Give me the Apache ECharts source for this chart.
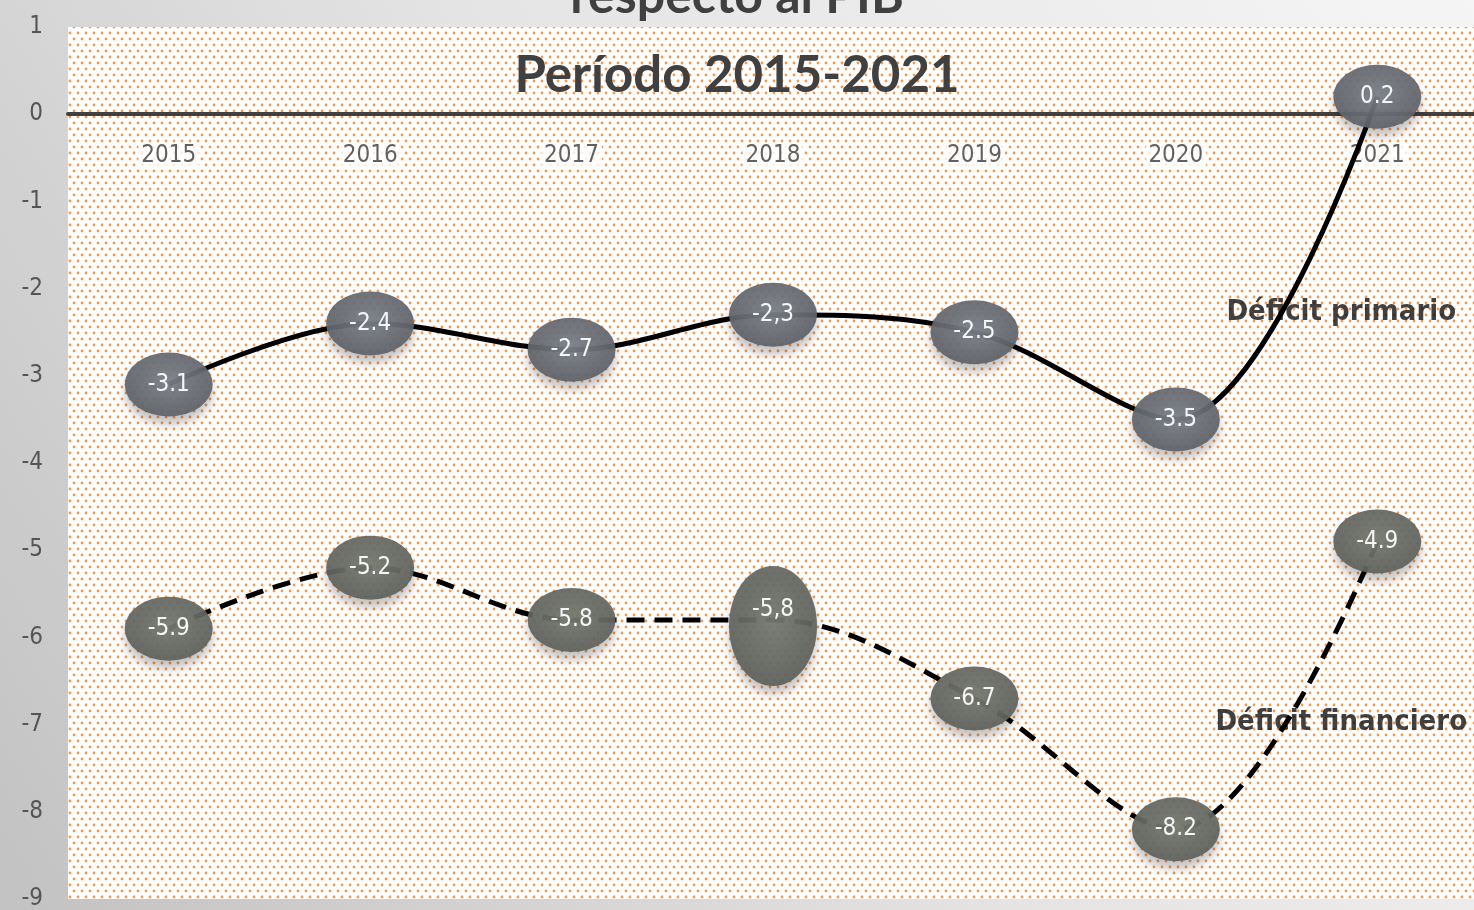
<!DOCTYPE html>
<html>
<head>
<meta charset="utf-8">
<script src="https://cdn.jsdelivr.net/npm/echarts@6/dist/echarts.min.js"></script>
<style>
  html, body { margin: 0; padding: 0; }
  #chart { width: 1474px; height: 910px; }
</style>
</head>
<body>
<div id="chart"></div>
<script>
// datos del gráfico
var years = ['2015', '2016', '2017', '2018', '2019', '2020', '2021'];
var primario = [-3.1, -2.4, -2.7, -2.3, -2.5, -3.5, 0.2];
var primarioTxt = ['-3.1', '-2.4', '-2.7', '-2,3', '-2.5', '-3.5', '0.2'];
var financiero = [-5.9, -5.2, -5.8, -5.8, -6.7, -8.2, -4.9];
var financieroTxt = ['-5.9', '-5.2', '-5.8', '-5,8', '-6.7', '-8.2', '-4.9'];
var yTicks = [1, 0, -1, -2, -3, -4, -5, -6, -7, -8, -9];
var notaPrimario = ['2021', -2.27];
var notaFinanciero = ['2021', -6.97];

var NARROW = '"Liberation Sans Narrow", "DejaVu Sans Condensed", "Roboto Condensed", sans-serif';

// trama de puntos naranjas del área de trazado
function trama() {
    var c = document.createElement('canvas');
    c.width = 8; c.height = 12;
    var ctx = c.getContext('2d');
    ctx.fillStyle = '#ffffff';
    ctx.fillRect(0, 0, 8, 12);
    ctx.fillStyle = '#f39a50';
    ctx.beginPath(); ctx.arc(2, 3, 1.4, 0, Math.PI * 2); ctx.fill();
    ctx.beginPath(); ctx.arc(6, 9, 1.4, 0, Math.PI * 2); ctx.fill();
    return c;
}

function burbuja(c1, c2) {
    return {
        type: 'radial', x: 0.5, y: 0.45, r: 0.6,
        colorStops: [{offset: 0, color: c1}, {offset: 1, color: c2}]
    };
}

var chart = echarts.init(document.getElementById('chart'));

var finData = financiero.map(function (v, i) {
    var d = {value: v};
    if (i === 3) { // el óvalo alargado de 2018
        d.symbolSize = [88, 120];
        d.symbolOffset = [0, 6];
        d.label = {offset: [0, -16]};
    }
    return d;
});

var option = {
    backgroundColor: {
        type: 'linear', x: 0, y: 1, x2: 1, y2: 0,
        colorStops: [{offset: 0, color: '#c2c2c2'}, {offset: 0.5, color: '#e4e4e4'}, {offset: 1, color: '#f5f5f5'}]
    },
    title: [{
        text: 'respecto al PIB', left: 'center', top: -33,
        textStyle: {fontSize: 50, fontWeight: 'bold', color: '#404040', fontFamily: 'Lato'}
    }, {
        text: 'Período 2015-2021', left: 'center', top: 45,
        textStyle: {fontSize: 51, fontWeight: 'bold', color: '#404040', fontFamily: 'Lato'}
    }],
    grid: {
        left: 68, right: -4, top: 27, bottom: 11,
        outerBoundsMode: 'none', containLabel: false,
        show: true, borderWidth: 0,
        backgroundColor: {image: trama(), repeat: 'repeat'}
    },
    xAxis: {
        type: 'category', data: years, boundaryGap: true,
        axisLine: {onZero: true, lineStyle: {color: '#404040', width: 4}},
        axisTick: {show: false},
        axisLabel: {show: false}
    },
    yAxis: {
        type: 'value', min: yTicks[yTicks.length - 1], max: yTicks[0], interval: 1,
        axisLine: {show: false}, axisTick: {show: false}, splitLine: {show: false},
        axisLabel: {margin: 25, fontSize: 24, color: '#555555', fontFamily: NARROW}
    },
    series: [{
        // rótulos de los años, justo debajo de la línea del cero
        type: 'scatter', z: 1, silent: true, symbolSize: 0,
        data: years.map(function (y) { return [y, 0]; }),
        label: {
            show: true, position: 'inside', offset: [0, 42],
            formatter: function (p) { return years[p.dataIndex]; },
            fontSize: 24, color: '#3a3a3a', fontFamily: NARROW,
            backgroundColor: '#ffffff', padding: [1, 3]
        }
    }, {
        name: 'Déficit primario', type: 'line', data: primario, smooth: 0.35, z: 3,
        symbol: 'circle', symbolSize: [88, 64],
        lineStyle: {color: '#000000', width: 5},
        itemStyle: {
            color: burbuja('#7b8088', '#5c5f65'), opacity: 0.93,
            shadowBlur: 10, shadowOffsetY: 8, shadowColor: 'rgba(0,0,0,0.25)'
        },
        label: {
            show: true, position: 'inside', color: '#ffffff', fontSize: 24,
            fontFamily: NARROW,
            formatter: function (p) { return primarioTxt[p.dataIndex]; }
        }
    }, {
        name: 'Déficit financiero', type: 'line', data: finData, smooth: 0.35, z: 3,
        symbol: 'circle', symbolSize: [88, 64],
        lineStyle: {color: '#000000', width: 5, type: [18, 10]},
        itemStyle: {
            color: burbuja('#767a70', '#5d5f5b'), opacity: 0.93,
            shadowBlur: 10, shadowOffsetY: 8, shadowColor: 'rgba(0,0,0,0.25)'
        },
        label: {
            show: true, position: 'inside', color: '#ffffff', fontSize: 24,
            fontFamily: NARROW,
            formatter: function (p) { return financieroTxt[p.dataIndex]; }
        }
    }, {
        type: 'scatter', z: 1, silent: true, symbolSize: 0,
        data: [notaPrimario],
        label: {
            show: true, position: 'inside', offset: [-36, 0], formatter: 'Déficit primario',
            fontSize: 29, fontWeight: 'bold', color: '#111111', fontFamily: NARROW
        }
    }, {
        type: 'scatter', z: 1, silent: true, symbolSize: 0,
        data: [notaFinanciero],
        label: {
            show: true, position: 'inside', offset: [-36, 0], formatter: 'Déficit financiero',
            fontSize: 29, fontWeight: 'bold', color: '#111111', fontFamily: NARROW
        }
    }]
};

chart.setOption(option);
</script>
</body>
</html>
